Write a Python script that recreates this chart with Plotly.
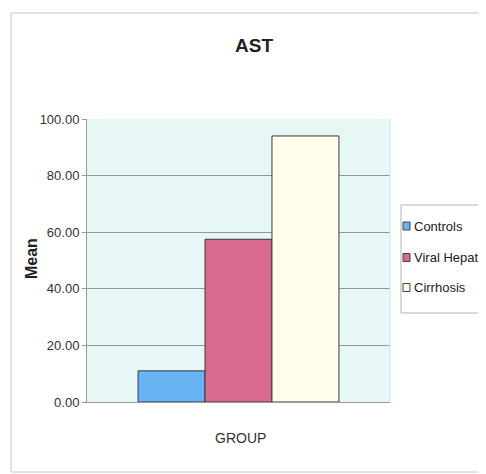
import plotly.graph_objects as go

# Data
series_names = ["Controls", "Viral Hepatatis", "Cirrhosis"]
category = [""]
values = [[11.0], [57.5], [94.0]]
colors = ["#68b4f2", "#d9698f", "#fffde9"]
y_ticks = [0, 20, 40, 60, 80, 100]

FONT = "Liberation Sans, Arial, sans-serif"

fig = go.Figure()
for name, vals, col in zip(series_names, values, colors):
    fig.add_trace(go.Bar(
        x=category, y=vals, name=name,
        marker=dict(color=col, line=dict(color="#3a3a3a", width=1)),
    ))

# pixel -> paper helpers (page pixels of the reference)
PL, PW, PB, PH = 87, 303, 402, 283
def px(X):
    return (X - PL) / PW
def py(Y):
    return (PB - Y) / PH

# custom legend (box, swatches, labels) matching the reference layout
legend_rows = [226, 257.5, 287.5]
shapes = [
    dict(type="rect", xref="paper", yref="paper",
         x0=px(11), x1=1.6, y0=py(472), y1=py(13),
         line=dict(color="#c4c4c4", width=1), layer="below"),
    dict(type="line", xref="paper", yref="paper", x0=1, x1=1, y0=0, y1=1,
         line=dict(color="#c9e6e2", width=1)),
    dict(type="rect", xref="paper", yref="paper",
         x0=px(401), x1=1.6, y0=py(313), y1=py(205),
         fillcolor="white", line=dict(color="#b0b0b0", width=1)),
]
annotations = [
    dict(text="Mean", xref="paper", yref="paper", x=px(31), y=py(259),
         textangle=-90, showarrow=False, xanchor="center", yanchor="middle",
         font=dict(family=FONT, size=16, color="#222", weight="bold")),
    dict(text="GROUP", xref="paper", yref="paper", x=px(240), y=py(438),
         showarrow=False, xanchor="center", yanchor="middle",
         font=dict(family=FONT, size=14, color="#333")),
]
for name, col, row in zip(series_names, colors, legend_rows):
    shapes.append(dict(type="rect", xref="paper", yref="paper",
                       x0=px(403), x1=px(410), y0=py(row + 4), y1=py(row - 4),
                       fillcolor=col, line=dict(color="#444", width=1)))
    annotations.append(dict(text=name, xref="paper", yref="paper",
                            x=px(412), y=py(row), showarrow=False,
                            xanchor="left", yanchor="middle",
                            font=dict(family=FONT, size=13, color="#222")))

# page has an 8px body margin, so the figure is 8px smaller than the window
fig.update_layout(
    width=478, height=466,
    margin=dict(l=79, r=96, t=111, b=72, autoexpand=False),
    paper_bgcolor="white",
    plot_bgcolor="#e7f7f5",
    barmode="group", bargap=0.337, bargroupgap=0,
    showlegend=False,
    title=dict(text="<b>AST</b>", x=246 / 478, xref="container", xanchor="center",
               y=1 - 37 / 466, yref="container", yanchor="middle",
               font=dict(family=FONT, size=19, color="#222")),
    xaxis=dict(showticklabels=False, showgrid=False, showline=True,
               linecolor="#9a9a9a", linewidth=1, zeroline=False, fixedrange=True),
    yaxis=dict(range=[0, 100], tickvals=y_ticks, tickformat=".2f",
               showgrid=True, gridcolor="#8f9a98", gridwidth=1,
               showline=True, linecolor="#9a9a9a", linewidth=1,
               ticks="outside", ticklen=4, tickcolor="#9a9a9a",
               zeroline=False,
               tickfont=dict(family=FONT, size=13, color="#333")),
    shapes=shapes,
    annotations=annotations,
)

fig.write_html("out.html")
